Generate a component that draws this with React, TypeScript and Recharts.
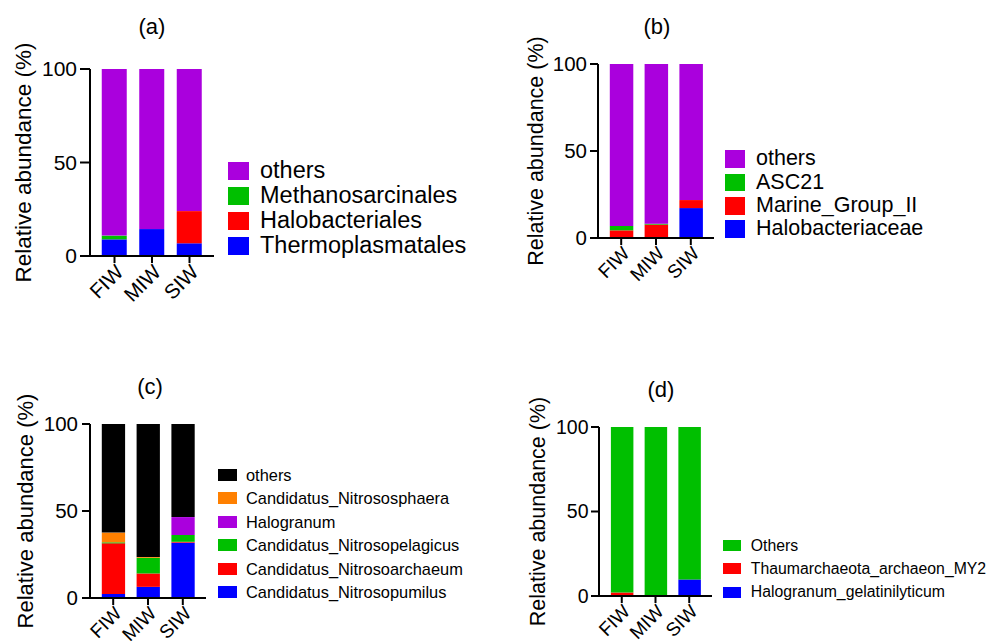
import React from 'react';
import { BarChart, Bar, XAxis, YAxis, Legend } from 'recharts';

const FONT = '"Liberation Sans", Arial, Helvetica, sans-serif';

const categories = ['FIW', 'MIW', 'SIW'];
const yTicks = [0, 50, 100];
const yAxisTitle = 'Relative abundance (%)';

// Panel (a) — stack order bottom to top
const aNames = ['Thermoplasmatales', 'Halobacteriales', 'Methanosarcinales', 'others'];
const aThermoplasmatales = [8.9, 14.4, 6.8];
const aHalobacteriales = [0, 0, 17.2];
const aMethanosarcinales = [2.0, 0, 0];
const aOthers = [89.1, 85.6, 76.0];
const aColors = ['#0000FF', '#FF0000', '#00BF00', '#AA00DD'];

// Panel (b)
const bNames = ['Halobacteriaceae', 'Marine_Group_II', 'ASC21', 'others'];
const bHalobacteriaceae = [0, 0, 17.2];
const bMarineGroupII = [4.4, 7.7, 4.6];
const bASC21 = [2.5, 0.5, 0];
const bOthers = [93.1, 91.8, 78.2];
const bColors = ['#0000FF', '#FF0000', '#00BF00', '#AA00DD'];

// Panel (c)
const cNames = [
  'Candidatus_Nitrosopumilus',
  'Candidatus_Nitrosoarchaeum',
  'Candidatus_Nitrosopelagicus',
  'Halogranum',
  'Candidatus_Nitrososphaera',
  'others',
];
const cNitrosopumilus = [2.3, 6.4, 31.8];
const cNitrosoarchaeum = [29.1, 7.7, 0.5];
const cNitrosopelagicus = [0.6, 9.0, 3.9];
const cHalogranum = [0, 0, 10.3];
const cNitrososphaera = [5.6, 0.5, 0];
const cOthers = [62.4, 76.4, 53.5];
const cColors = ['#0000FF', '#FF0000', '#00BF00', '#AA00DD', '#FF8000', '#000000'];

// Panel (d)
const dNames = ['Halogranum_gelatinilyticum', 'Thaumarchaeota_archaeon_MY2', 'Others'];
const dHalogranumGelatinilyticum = [0, 0, 9.8];
const dThaumarchaeotaMY2 = [2.0, 0, 0];
const dOthers = [98.0, 100, 90.2];
const dColors = ['#0000FF', '#FF0000', '#00BF00'];

type Cfg = {
  title: string;
  names: string[];
  values: number[][];
  colors: string[];
  left: number; top: number; width: number; height: number;
  plotLeft: number; plotRight: number; plotTop: number; plotBottom: number;
  pad: number; barSize: number;
  xFont: number; yFont: number; tickSizeY: number; tickMarginY: number;
  labelX: number; labelFont: number;
  titleX: number; titleTop: number;
  lg: { left: number; top: number; sw: number; sh: number; pitch: number; font: number; gap: number };
};

const panels: Cfg[] = [
  {
    title: '(a)', names: aNames,
    values: [aThermoplasmatales, aHalobacteriales, aMethanosarcinales, aOthers], colors: aColors,
    left: 0, top: 0, width: 480, height: 330,
    plotLeft: 90, plotRight: 214, plotTop: 69, plotBottom: 256,
    pad: 5.75, barSize: 25, xFont: 20.5, yFont: 21, tickSizeY: 10, tickMarginY: 3,
    labelX: 23, labelFont: 22.5, titleX: 152, titleTop: 15.5,
    lg: { left: 228, top: 158.5, sw: 21, sh: 18, pitch: 25, font: 23.5, gap: 11 },
  },
  {
    title: '(b)', names: bNames,
    values: [bHalobacteriaceae, bMarineGroupII, bASC21, bOthers], colors: bColors,
    left: 500, top: 0, width: 487, height: 330,
    plotLeft: 598, plotRight: 714, plotTop: 64, plotBottom: 238,
    pad: 5.8, barSize: 23.5, xFont: 19, yFont: 20.5, tickSizeY: 8, tickMarginY: 3,
    labelX: 535, labelFont: 21.5, titleX: 657, titleTop: 15.5,
    lg: { left: 225, top: 147.3, sw: 20, sh: 17.5, pitch: 23.4, font: 21.5, gap: 11 },
  },
  {
    title: '(c)', names: cNames,
    values: [cNitrosopumilus, cNitrosoarchaeum, cNitrosopelagicus, cHalogranum, cNitrososphaera, cOthers],
    colors: cColors,
    left: 0, top: 330, width: 500, height: 311,
    plotLeft: 90, plotRight: 206, plotTop: 424, plotBottom: 598,
    pad: 5.8, barSize: 23.3, xFont: 19, yFont: 20.5, tickSizeY: 8, tickMarginY: 4,
    labelX: 25, labelFont: 22, titleX: 150, titleTop: 375.5,
    lg: { left: 218, top: 133, sw: 19, sh: 12, pitch: 23.5, font: 16.4, gap: 9 },
  },
  {
    title: '(d)', names: dNames,
    values: [dHalogranumGelatinilyticum, dThaumarchaeotaMY2, dOthers], colors: dColors,
    left: 500, top: 330, width: 487, height: 311,
    plotLeft: 599, plotRight: 712, plotTop: 427, plotBottom: 596,
    pad: 5.9, barSize: 22.5, xFont: 19, yFont: 19.5, tickSizeY: 8, tickMarginY: 2.5,
    labelX: 537, labelFont: 21.5, titleX: 661, titleTop: 378.5,
    lg: { left: 223.3, top: 204, sw: 17.5, sh: 11, pitch: 23.3, font: 15.8, gap: 10 },
  },
];

const XTick = (props: any) => {
  const { x, y, payload, fontSize } = props;
  return (
    <text
      x={x}
      y={y}
      dy="0.71em"
      transform={`rotate(-45 ${x} ${y})`}
      textAnchor="end"
      fontSize={fontSize}
      fill="#000"
      fontFamily={FONT}
    >
      {payload.value}
    </text>
  );
};

const LegendBox = ({ cfg }: { cfg: Cfg }) => {
  const items = cfg.names.map((n, i) => ({ name: n, color: cfg.colors[i] })).reverse();
  const { sw, sh, pitch, font, gap } = cfg.lg;
  return (
    <div style={{ fontFamily: FONT, color: '#000' }}>
      {items.map((it) => (
        <div key={it.name} style={{ display: 'flex', alignItems: 'center', height: pitch }}>
          <div style={{ width: sw, height: sh, background: it.color, marginRight: gap, flexShrink: 0 }} />
          <span style={{ fontSize: font, lineHeight: 1, whiteSpace: 'nowrap' }}>{it.name}</span>
        </div>
      ))}
    </div>
  );
};

const axisStyle = { stroke: '#000', strokeWidth: 2 };

const Panel = ({ cfg }: { cfg: Cfg }) => {
  const data = categories.map((c, i) => {
    const row: Record<string, any> = { cat: c };
    cfg.values.forEach((v, j) => {
      row['s' + j] = v[i];
    });
    return row;
  });
  return (
    <>
      <div
        style={{
          position: 'absolute',
          left: cfg.titleX - 50,
          top: cfg.titleTop,
          width: 100,
          textAlign: 'center',
          fontSize: 22,
          lineHeight: '22px',
          color: '#000',
          fontFamily: FONT,
        }}
      >
        {cfg.title}
      </div>
      <div style={{ position: 'absolute', left: cfg.left, top: cfg.top }}>
        <BarChart
          width={cfg.width}
          height={cfg.height}
          data={data}
          margin={{
            top: cfg.plotTop - cfg.top,
            right: cfg.left + cfg.width - cfg.plotRight,
            bottom: 0,
            left: 0,
          }}
        >
          <XAxis
            dataKey="cat"
            height={cfg.top + cfg.height - cfg.plotBottom}
            padding={{ left: cfg.pad, right: cfg.pad }}
            interval={0}
            tickSize={7}
            tickMargin={0}
            axisLine={axisStyle}
            tickLine={axisStyle}
            tick={<XTick fontSize={cfg.xFont} />}
          />
          <XAxis
            xAxisId="top"
            dataKey="cat"
            orientation="top"
            height={0}
            padding={{ left: cfg.pad, right: cfg.pad }}
            tick={false}
            tickLine={false}
            axisLine={axisStyle}
          />
          <YAxis
            domain={[0, 100]}
            ticks={yTicks}
            width={cfg.plotLeft - cfg.left}
            tickSize={cfg.tickSizeY}
            tickMargin={cfg.tickMarginY}
            axisLine={axisStyle}
            tickLine={axisStyle}
            tick={{ fontSize: cfg.yFont, fill: '#000', fontFamily: FONT }}
            label={{
              value: yAxisTitle,
              angle: -90,
              position: 'insideLeft',
              offset: cfg.labelX - cfg.left,
              fontSize: cfg.labelFont,
              fill: '#000',
              fontFamily: FONT,
              style: { textAnchor: 'middle' },
            }}
          />
          <YAxis
            yAxisId="right"
            orientation="right"
            width={0}
            domain={[0, 100]}
            tick={false}
            tickLine={false}
            axisLine={axisStyle}
          />
          {cfg.names.map((n, j) => (
            <Bar
              key={n}
              dataKey={'s' + j}
              name={n}
              stackId="stack"
              fill={cfg.colors[j]}
              barSize={cfg.barSize}
              isAnimationActive={false}
            />
          ))}
          <Legend
            layout="vertical"
            align="center"
            verticalAlign="middle"
            wrapperStyle={{ left: cfg.lg.left, top: cfg.lg.top, width: 'auto', height: 'auto' }}
            content={() => <LegendBox cfg={cfg} />}
          />
        </BarChart>
      </div>
    </>
  );
}

export default function App() {
  return (
    <div
      style={{
        position: 'absolute',
        left: 0,
        top: 0,
        width: 987,
        height: 641,
        background: '#fff',
        overflow: 'hidden',
        fontFamily: FONT,
      }}
    >
      {panels.map((p) => (
        <Panel key={p.title} cfg={p} />
      ))}
    </div>
  );
}
